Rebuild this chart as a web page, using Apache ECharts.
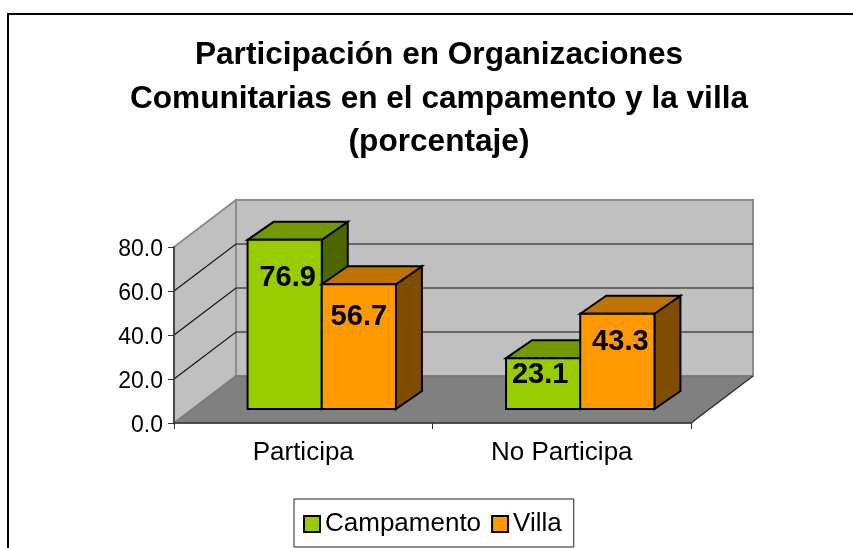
<!DOCTYPE html>
<html>
<head>
<meta charset="utf-8">
<style>html,body{margin:0;padding:0;background:#fff;overflow:hidden}#c{width:853px;height:548px}</style>
<script src="https://cdn.jsdelivr.net/npm/echarts@6/dist/echarts.min.js"></script>
</head>
<body>
<div id="c"></div>
<script>
const titleText = "Participación en Organizaciones\nComunitarias en el campamento y la villa\n(porcentaje)";
const categories = ["Participa", "No Participa"];
const campamento = [76.9, 23.1];
const villa = [56.7, 43.3];
const yTicks = [0, 20, 40, 60, 80];

const FONT = '"Liberation Sans", Arial, sans-serif';
const WALL = [62, -47];          // projection of the full chart depth
const BAR_DEPTH = [26, -18];     // projection of one bar's depth
const BAR_SHIFT = [18.5, -14];   // bar position inside the depth
const BAR_RATIO = 0.287;         // bar width / category band
const LABEL_SHIFT = {            // text centre relative to front-face top centre
  Campamento: [[3, 38], [-3, 17]],
  Villa: [[0, 33], [3, 28]]
};

function poly(points, fill, stroke, lineWidth) {
  return { type: 'polygon', shape: { points }, style: { fill, stroke, lineWidth } };
}

function renderWall(params, api) {
  const v = api.value(1);
  const g = params.coordSys;
  const y = api.coord([0, v])[1];
  const x0 = g.x, x1 = g.x + g.width;
  const [dx, dy] = WALL;
  const children = [];
  if (params.dataIndex === 0) {
    const top = g.y, bot = g.y + g.height;
    children.push(poly([[x0 + dx, top + dy], [x1 + dx, top + dy], [x1 + dx, bot + dy], [x0 + dx, bot + dy]], '#C0C0C0', '#8C8C8C', 2));
    children.push(poly([[x0, top], [x0 + dx, top + dy], [x0 + dx, bot + dy], [x0, bot]], '#C0C0C0', '#8C8C8C', 2));
    children.push(poly([[x0, bot], [x0 + dx, bot + dy], [x1 + dx, bot + dy], [x1, bot]], '#808080', '#707070', 1));
    children.push({ type: 'line', shape: { x1: x1, y1: bot, x2: x1 + dx, y2: bot + dy }, style: { stroke: '#333', lineWidth: 1.5 } });
  } else if (v < yTicks[yTicks.length - 1]) {
    const line = { stroke: '#111', lineWidth: 1.2 };
    children.push({ type: 'polyline', shape: { points: [[x0, y], [x0 + dx, y + dy], [x1 + dx, y + dy]] }, style: { ...line, fill: null } });
  }
  return { type: 'group', children };
}

function barRenderer(name, colors, index) {
  return function (params, api) {
    const cat = api.value(0), val = api.value(1);
    const w = api.size([1, 0])[0] * BAR_RATIO;
    const c = api.coord([cat, val]), b = api.coord([cat, 0]);
    const xl = c[0] + BAR_SHIFT[0] + (index - 1) * w;
    const xr = xl + w;
    const top = c[1] + BAR_SHIFT[1], bot = b[1] + BAR_SHIFT[1];
    const [dx, dy] = BAR_DEPTH;
    const lw = 2;
    const shift = LABEL_SHIFT[name][params.dataIndex];
    return {
      type: 'group',
      children: [
        poly([[xr, top], [xr + dx, top + dy], [xr + dx, bot + dy], [xr, bot]], colors[2], '#000', lw),
        poly([[xl, top], [xl + dx, top + dy], [xr + dx, top + dy], [xr, top]], colors[1], '#000', lw),
        poly([[xl, top], [xr, top], [xr, bot], [xl, bot]], colors[0], '#000', lw),
        { type: 'text', z2: 10, style: {
            text: val.toFixed(1), x: (xl + xr) / 2 + shift[0], y: top + shift[1],
            align: 'center', verticalAlign: 'middle',
            font: 'bold 29px ' + FONT, fill: '#000' } }
      ]
    };
  };
}

const chart = echarts.init(document.getElementById('c'), null, { renderer: 'canvas' });
chart.setOption({
  animation: false,
  backgroundColor: '#fff',
  title: {
    text: titleText, left: 434, top: 29, textAlign: 'center',
    textStyle: { fontFamily: FONT, fontSize: 31.6, fontWeight: 'bold', color: '#000', lineHeight: 43.5 }
  },
  graphic: [{
    type: 'polyline', silent: true, shape: { points: [[8, 548], [8, 14], [853, 14]] },
    style: { stroke: '#000', lineWidth: 2, fill: null }
  }],
  legend: {
    left: 294, top: 499, orient: 'horizontal',
    data: ['Campamento', 'Villa'], icon: 'rect',
    backgroundColor: '#fff', borderColor: '#222', borderWidth: 1,
    padding: [12, 12, 10, 9], itemWidth: 16, itemHeight: 16, itemGap: 10,
    textStyle: { fontFamily: FONT, fontSize: 26, color: '#000', padding: [0, 0, 8, 0] }
  },
  grid: { left: 174, top: 247, width: 517, height: 176, containLabel: false },
  xAxis: {
    type: 'category', data: categories, z: 10,
    axisLine: { lineStyle: { color: '#333', width: 1.5 } },
    axisTick: { show: true, alignWithLabel: false, length: 6, lineStyle: { color: '#333' } },
    axisLabel: { fontFamily: FONT, fontSize: 26, color: '#000', margin: 17 }
  },
  yAxis: {
    type: 'value', min: yTicks[0], max: yTicks[yTicks.length - 1], interval: 20, z: 10,
    splitLine: { show: false },
    axisLine: { show: true, lineStyle: { color: '#333', width: 1.5 } },
    axisTick: { show: true, length: 6, lineStyle: { color: '#333' } },
    axisLabel: { fontFamily: FONT, fontSize: 23, color: '#000', margin: 11, verticalAlign: 'top', lineHeight: 6, formatter: v => v.toFixed(1) }
  },
  series: [
    { type: 'custom', silent: true, z: 1, renderItem: renderWall, data: yTicks.map(v => [0, v]) },
    { type: 'custom', name: 'Campamento', z: 3, renderItem: barRenderer('Campamento', ['#99CC00', '#739900', '#4D6600'], 0),
      itemStyle: { color: '#99CC00', borderColor: '#000', borderWidth: 2 },
      data: campamento.map((v, i) => [i, v]) },
    { type: 'custom', name: 'Villa', z: 4, renderItem: barRenderer('Villa', ['#FF9900', '#BF7300', '#804D00'], 1),
      itemStyle: { color: '#FF9900', borderColor: '#000', borderWidth: 2 },
      data: villa.map((v, i) => [i, v]) }
  ]
});
</script>
</body>
</html>
